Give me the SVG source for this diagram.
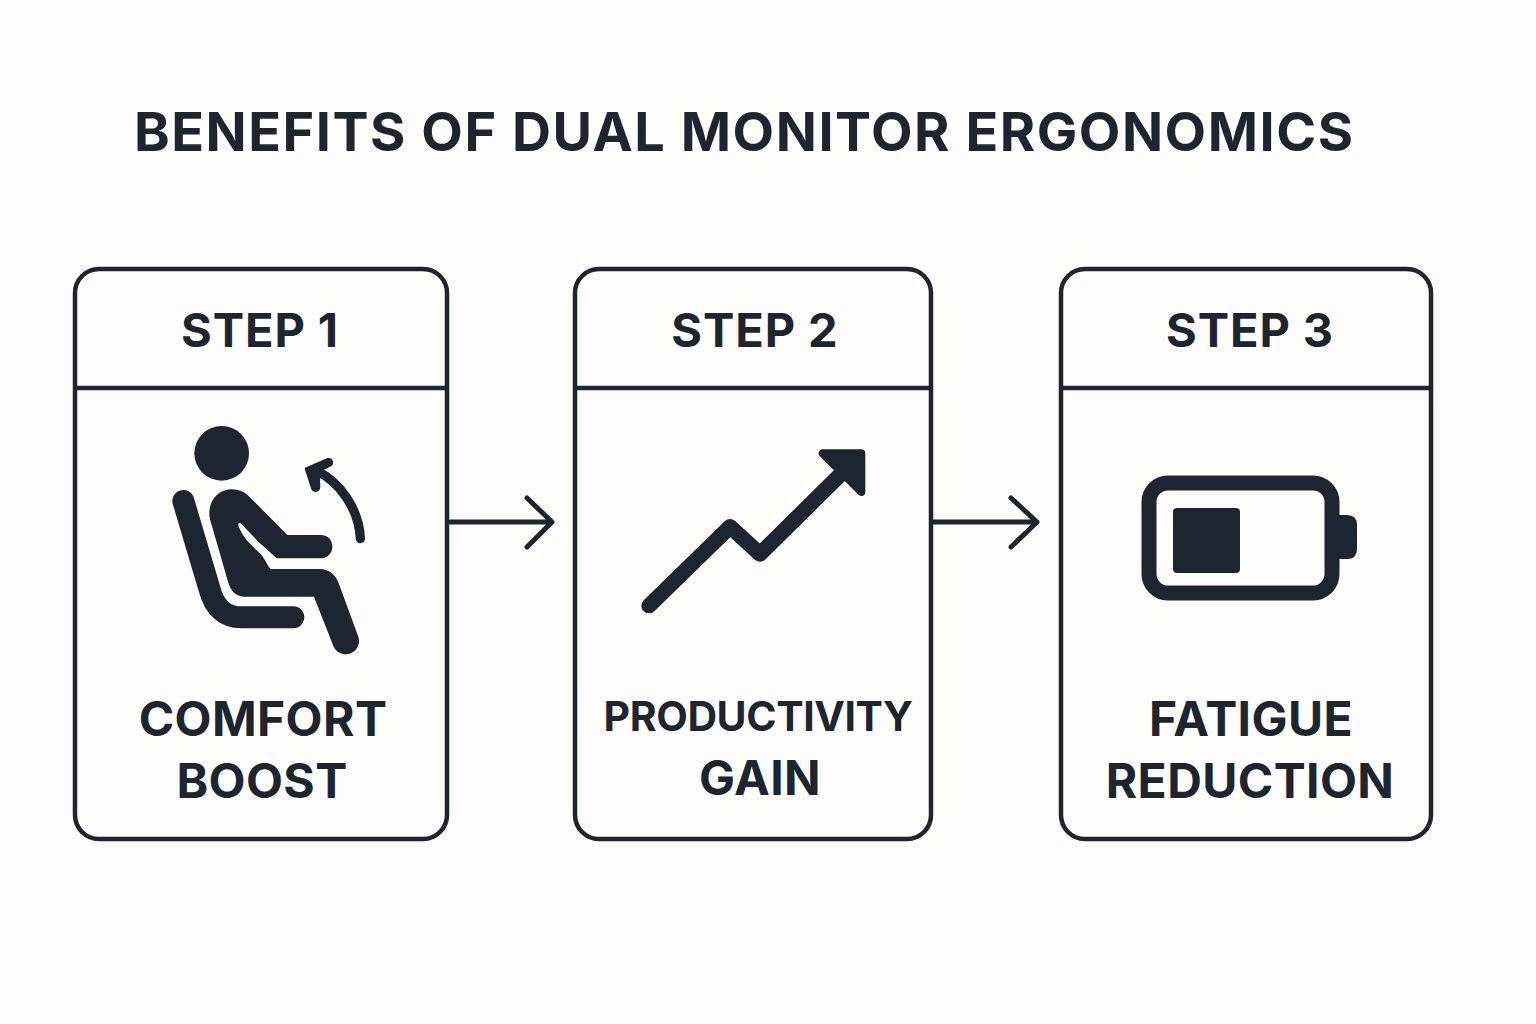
<svg xmlns="http://www.w3.org/2000/svg" width="1536" height="1024" viewBox="0 0 1536 1024">
<style>
text{font-family:"Inter","Liberation Sans",sans-serif;fill:#1c2530;text-anchor:middle;font-weight:700}
.title{font-size:54px;letter-spacing:1.53px;text-anchor:start}
.step{font-size:47px;letter-spacing:.9px}
.lab{font-size:48px;letter-spacing:.4px}
.card{fill:none;stroke:#1c2530;stroke-width:4.5}
.ink{fill:#1c2530}
.con{fill:none;stroke:#1c2530;stroke-width:5;stroke-linecap:round;stroke-linejoin:round}
</style>
<rect width="1536" height="1024" fill="#fdfcfa"/>
<text id="title" class="title" x="134" y="151">BENEFITS OF DUAL MONITOR ERGONOMICS</text>
<g id="connectors">
<path class="con" d="M450 522H552M527 498L552 522L527 547"/>
<path class="con" d="M934 522H1037M1011 498L1037 522L1011 547"/>
</g>
<g id="step1">
<rect class="card" x="75" y="269" width="372" height="570" rx="24"/>
<path class="card" d="M76 388H446"/>
<text class="step" x="260" y="347">STEP 1</text>
<g transform="translate(150 410) scale(.33333)">
<circle class="ink" cx="215" cy="130" r="82"/>
<path fill="none" stroke="#1c2530" stroke-width="66" stroke-linecap="round" d="M100 273L178 535Q200 622 275 622H430"/>
<path class="ink" d="M178 310C178 265 210 238 245 238C268 238 285 247 298 260L412 375H512C535 375 547 392 547 410C547 430 532 445 512 445H380L325 395L272 340C266 335 263 342 267 352C275 372 290 395 325 425C345 442 350 465 362 477H510C535 477 555 492 565 517L625 680C634 708 612 733 588 733C572 733 558 725 550 708L492 560H285C255 560 242 540 235 518L185 345C180 330 178 320 178 310Z"/>
<path fill="none" stroke="#1c2530" stroke-width="28" stroke-linecap="round" d="M631 386C628 300 570 215 500 183"/>
<path class="ink" stroke="#1c2530" stroke-width="8" stroke-linejoin="round" d="M468 176L534 148C545 146 550 160 540 166L505 183L507 232C505 245 490 245 487 234Z"/>
</g>
<text class="lab" x="263" y="736">COMFORT</text>
<text class="lab" x="262" y="798">BOOST</text>
</g>
<g id="step2">
<rect class="card" x="575" y="269" width="356" height="570" rx="24"/>
<path class="card" d="M576 388H930"/>
<text class="step" x="755" y="347">STEP 2</text>
<g transform="translate(620 430) scale(.33333)">
<path fill="none" stroke="#1c2530" stroke-width="46" stroke-linecap="round" stroke-linejoin="round" d="M87 527L330 290L420 372L660 135"/>
<path class="ink" stroke="#1c2530" stroke-width="24" stroke-linejoin="round" d="M608 70H724V186Z"/>
</g>
<text class="lab" x="758" y="731" style="font-size:41px;letter-spacing:-.4px">PRODUCTIVITY</text>
<text class="lab" x="760" y="795">GAIN</text>
</g>
<g id="step3">
<rect class="card" x="1061" y="269" width="370" height="570" rx="24"/>
<path class="card" d="M1062 388H1430"/>
<text class="step" x="1250" y="347">STEP 3</text>
<rect x="1149" y="483" width="183" height="110" rx="19" fill="none" stroke="#1c2530" stroke-width="15"/>
<path class="ink" d="M1338 515H1347Q1357 515 1357 525V549Q1357 559 1347 559H1338Z"/>
<rect class="ink" x="1173" y="508" width="67" height="65" rx="4"/>
<text class="lab" x="1251" y="736">FATIGUE</text>
<text class="lab" x="1250" y="798">REDUCTION</text>
</g>
</svg>
